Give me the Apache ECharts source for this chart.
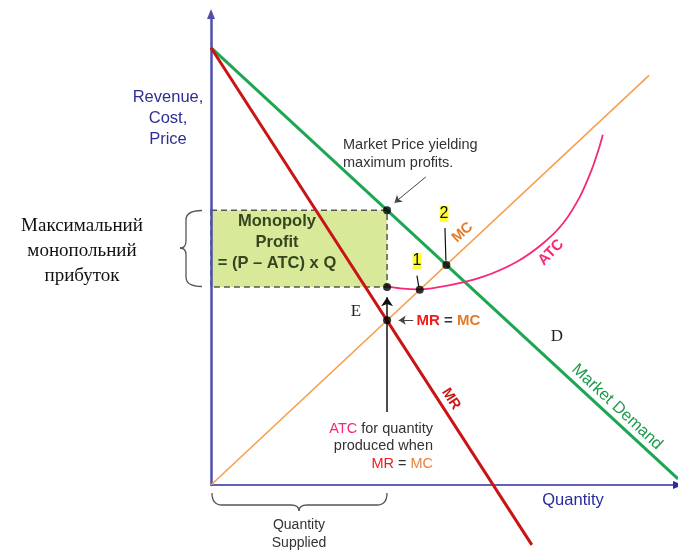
<!DOCTYPE html>
<html><head><meta charset="utf-8">
<script src="https://cdn.jsdelivr.net/npm/echarts@6/dist/echarts.min.js"></script>
<style>html,body{margin:0;padding:0;background:#fff}#c{width:678px;height:551px}</style>
</head><body><div id="c"></div>
<script>
// ---- data (Quantity on x, Revenue/Cost/Price on y, arbitrary units) ----
const demandQ = [0, 10];
const demandP = [9.34, 0.13];
const mrQ = [0, 6.87];
const mrP = [9.34, -1.28];
const mcQ = [0, 9.38];
const mcP = [0, 8.75];
const atcQ = [3.77, 4.05, 4.45, 5.12, 5.83, 6.55, 7.12, 7.54, 7.90, 8.15, 8.32, 8.39];
const atcP = [4.24, 4.20, 4.18, 4.27, 4.45, 4.77, 5.17, 5.59, 6.16, 6.73, 7.23, 7.48];
const keyQ = [3.77, 5.04, 4.47, 3.77, 3.77];
const keyP = [5.87, 4.70, 4.17, 4.23, 3.52];
const profitQ = [0, 3.77];
const profitP = [4.23, 5.87];
// annotation anchors (data units)
const grayArrows = [[[4.60, 6.58], [3.93, 6.03]], [[4.33, 3.52], [4.02, 3.52]]];
const blackArrows = [[[3.77, 1.56], [3.77, 4.01]]];
const leaders = [[[5.01, 5.49], [5.03, 4.79]], [[4.41, 4.47], [4.45, 4.23]]];
const xMax = 10, yMax = 10.06;

const zip = (a, b) => a.map((v, i) => [v, b[i]]);
const toML = arr => arr.map(s => [{coord: s[0]}, {coord: s[1]}]);
const SANS = 'Liberation Sans, Arial, sans-serif';
const SERIF = 'Liberation Serif, Times New Roman, serif';

const chart = echarts.init(document.getElementById('c'));
const txt = (text, x, y, font, fill, align, extra) => Object.assign({
  type: 'text', x: x, y: y, z: 100,
  style: Object.assign({text: text, font: font, fill: fill, textAlign: align || 'center', align: align || 'center',
    textVerticalAlign: 'middle', verticalAlign: 'middle'}, extra && extra.style || {})
}, extra && extra.el || {});
const D2R = Math.PI / 180;
const braceStyle = {stroke: '#555', fill: 'none', lineWidth: 1.3};
const qb = (x1, y1, cx, cy, x2, y2) => ({type: 'bezierCurve', z: 100, shape: {x1: x1, y1: y1, cpx1: cx, cpy1: cy, x2: x2, y2: y2}, style: braceStyle});
const ln = (x1, y1, x2, y2) => ({type: 'line', z: 100, shape: {x1: x1, y1: y1, x2: x2, y2: y2}, style: braceStyle});

chart.setOption({
  animation: false,
  grid: {left: 211, top: 14, right: 0, bottom: 66},
  xAxis: {type: 'value', min: 0, max: xMax, axisTick: {show: false}, axisLabel: {show: false}, splitLine: {show: false},
    axisLine: {show: true, symbol: ['none', 'triangle'], symbolSize: [8, 10], lineStyle: {color: '#2e2e9e', width: 1.6}}},
  yAxis: {type: 'value', min: 0, max: yMax, z: 3, axisTick: {show: false}, axisLabel: {show: false}, splitLine: {show: false},
    axisLine: {show: true, symbol: ['none', 'triangle'], symbolSize: [8, 10], lineStyle: {color: '#4f4fae', width: 2.5}}},
  series: [
    {type: 'custom', name: 'Profit', z: 1, zlevel: -1, silent: true,
      data: [[profitQ[0], profitP[0], profitQ[1], profitP[1]]],
      renderItem: function (params, api) {
        const a = api.coord([api.value(0), api.value(3)]);
        const b = api.coord([api.value(2), api.value(1)]);
        return {type: 'rect', shape: {x: a[0], y: a[1], width: b[0] - a[0], height: b[1] - a[1]},
          style: {fill: '#d8ea9a', stroke: '#555', lineWidth: 1.5, lineDash: [6, 4]}};
      }},
    {type: 'line', name: 'Market Demand', data: zip(demandQ, demandP), symbol: 'none', z: 4,
      lineStyle: {color: '#1ea653', width: 3}},
    {type: 'line', name: 'MR', data: zip(mrQ, mrP), symbol: 'none', clip: false, z: 5,
      lineStyle: {color: '#c81414', width: 3}},
    {type: 'line', name: 'MC', data: zip(mcQ, mcP), symbol: 'none', z: 4,
      lineStyle: {color: '#f4a04e', width: 1.6}},
    {type: 'line', name: 'ATC', data: zip(atcQ, atcP), symbol: 'none', smooth: 0.3, z: 4,
      lineStyle: {color: '#f5287a', width: 1.8}},
    {type: 'line', data: [], z: 6, markLine: {silent: true, symbol: ['none', 'arrow'], symbolSize: 7, label: {show: false},
      lineStyle: {color: '#444', width: 1, type: 'solid'}, data: toML(grayArrows)}},
    {type: 'line', data: [], z: 6, markLine: {silent: true, symbol: ['none', 'arrow'], symbolSize: 9, label: {show: false},
      lineStyle: {color: '#111', width: 1.5, type: 'solid'}, data: toML(blackArrows)}},
    {type: 'line', data: [], z: 6, markLine: {silent: true, symbol: ['none', 'none'], label: {show: false},
      lineStyle: {color: '#111', width: 1.2, type: 'solid'}, data: toML(leaders)}},
    {type: 'scatter', data: zip(keyQ, keyP), symbolSize: 8, z: 10, itemStyle: {color: '#000'}}
  ],
  graphic: [
    txt('Revenue,\nCost,\nPrice', 168, 118, '16.5px ' + SANS, '#2e2e94', 'center', {style: {lineHeight: 21}}),
    txt('Максимальний\nмонопольний\nприбуток', 82, 251, '19px ' + SERIF, '#111', 'center', {style: {lineHeight: 25}}),
    txt('Monopoly\nProfit\n= (P – ATC) x Q', 277, 242, 'bold 16.5px ' + SANS, '#35461f', 'center', {style: {lineHeight: 21}}),
    txt('Market Price yielding\nmaximum profits.', 343, 154, '14.5px ' + SANS, '#333', 'left', {style: {lineHeight: 17.7}}),
    {type: 'text', x: 433, y: 446, z: 100, style: {
      text: '{a|ATC} for quantity\nproduced when\n{r|MR} = {o|MC}', font: '14.5px ' + SANS, fill: '#333',
      textAlign: 'right', align: 'right', textVerticalAlign: 'middle', verticalAlign: 'middle', lineHeight: 17.5,
      rich: {a: {fill: '#f5287a', font: '14.5px ' + SANS, lineHeight: 17.5}, r: {fill: '#ee1c1c', font: '14.5px ' + SANS, lineHeight: 17.5},
        o: {fill: '#e8843a', font: '14.5px ' + SANS, lineHeight: 17.5}}}},
    {type: 'text', x: 416.5, y: 321, z: 100, style: {
      text: '{r|MR} = {o|MC}', font: 'bold 15px ' + SANS, fill: '#333',
      textAlign: 'left', align: 'left', textVerticalAlign: 'middle', verticalAlign: 'middle',
      rich: {r: {fill: '#ee1c1c', font: 'bold 15px ' + SANS}, o: {fill: '#e07b2a', font: 'bold 15px ' + SANS}}}},
    txt('1', 417, 261, '16px ' + SANS, '#111', 'center', {style: {backgroundColor: '#ffff33', padding: [0, 0]}}),
    txt('2', 444, 214, '16px ' + SANS, '#111', 'center', {style: {backgroundColor: '#ffff33', padding: [0, 0]}}),
    txt('E', 356, 312, '17px ' + SERIF, '#222', 'center'),
    txt('D', 557, 337, '17px ' + SERIF, '#222', 'center'),
    txt('MR', 451, 399, 'bold 14.5px ' + SANS, '#d01515', 'center', {el: {rotation: -57 * D2R}}),
    txt('Market Demand', 617, 407, '16.5px ' + SANS, '#1e9a4c', 'center', {el: {rotation: -43 * D2R}}),
    txt('MC', 462.5, 232.5, 'bold 14.5px ' + SANS, '#e07b2a', 'center', {el: {rotation: 42.7 * D2R}}),
    txt('ATC', 551, 252.5, 'bold 15px ' + SANS, '#f5287a', 'center', {el: {rotation: 46 * D2R}}),
    txt('Quantity', 573, 500, '16.5px ' + SANS, '#2a2a99', 'center'),
    txt('Quantity\nSupplied', 299, 534, '14px ' + SANS, '#333', 'center', {style: {lineHeight: 17.7}}),
    qb(202, 210.5, 186, 210.5, 186, 220), ln(186, 220, 186, 241), qb(186, 241, 186, 248, 180, 248),
    qb(180, 248, 186, 248, 186, 255), ln(186, 255, 186, 277), qb(186, 277, 186, 286.5, 202, 286.5),
    qb(212, 493, 212, 505, 222, 505), ln(222, 505, 291, 505), qb(291, 505, 299, 505, 299, 511),
    qb(299, 511, 299, 505, 307, 505), ln(307, 505, 377, 505), qb(377, 505, 387, 505, 387, 493)
  ]
});
</script></body></html>
